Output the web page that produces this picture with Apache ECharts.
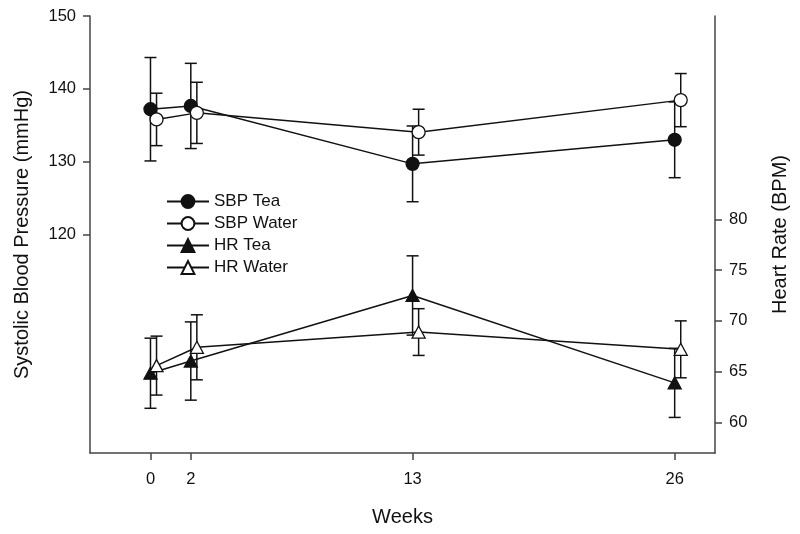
<!DOCTYPE html>
<html>
<head>
<meta charset="utf-8">
<script src="https://cdn.jsdelivr.net/npm/echarts@6/dist/echarts.min.js"></script>
<style>
  html, body { margin: 0; padding: 0; background: #fff; }
  #chart { width: 800px; height: 534px; }
</style>
</head>
<body>
<div id="chart"></div>
<script>
// data (means and SE)
var weeks = [0, 2, 13, 26];
var sbpTea = [137.2, 137.65, 129.7, 133.0];
var sbpTeaErr = [7.1, 5.85, 5.2, 5.2];
var sbpWater = [135.8, 136.7, 134.05, 138.45];
var sbpWaterErr = [3.6, 4.2, 3.15, 3.65];
var hrTea = [64.85, 66.05, 72.5, 63.9];
var hrTeaErr = [3.45, 3.85, 3.9, 3.4];
var hrWater = [65.6, 67.4, 68.9, 67.2];
var hrWaterErr = [2.9, 3.2, 2.3, 2.8];

var xTicks = [0, 2, 13, 26];
var sbpTicks = [120, 130, 140, 150];
var hrTicks = [60, 65, 70, 75, 80];

var DODGE = 0.3; // water groups are nudged right a little
var FONT = 'Liberation Sans, Arial, sans-serif';
var INK = '#111';

var chart = echarts.init(document.getElementById('chart'));

function errorBars(vals, errs, dx, yIndex) {
  return {
    type: 'custom',
    yAxisIndex: yIndex,
    z: 1,
    silent: true,
    encode: { x: 0, y: [1, 2] },
    data: weeks.map(function (w, i) {
      return [w + dx, vals[i] - errs[i], vals[i] + errs[i]];
    }),
    renderItem: function (params, api) {
      var lo = api.coord([api.value(0), api.value(1)]);
      var hi = api.coord([api.value(0), api.value(2)]);
      var hw = 6;
      var style = { stroke: INK, lineWidth: 1.5 };
      return {
        type: 'group',
        children: [
          { type: 'line', shape: { x1: lo[0], y1: lo[1], x2: hi[0], y2: hi[1] }, style: style },
          { type: 'line', shape: { x1: lo[0] - hw, y1: lo[1], x2: lo[0] + hw, y2: lo[1] }, style: style },
          { type: 'line', shape: { x1: hi[0] - hw, y1: hi[1], x2: hi[0] + hw, y2: hi[1] }, style: style }
        ]
      };
    }
  };
}

function lineSeries(name, vals, dx, yIndex, symbol, fill) {
  return {
    name: name,
    type: 'line',
    yAxisIndex: yIndex,
    z: 2,
    data: weeks.map(function (w, i) { return [w + dx, vals[i]]; }),
    symbol: symbol,
    symbolSize: symbol === 'circle' ? 13 : [13, 12],
    showAllSymbol: true,
    lineStyle: { color: INK, width: 1.5 },
    itemStyle: { color: fill, borderColor: INK, borderWidth: 1.3 },
    emphasis: { disabled: true }
  };
}

var axisLineStyle = { color: '#444', width: 1.5 };

chart.setOption({
  backgroundColor: '#fff',
  animation: false,
  grid: { left: 90, right: 85, top: 16, bottom: 81 },
  legend: {
    orient: 'vertical',
    left: 166,
    top: 193,
    padding: 0,
    itemWidth: 42,
    itemHeight: 16,
    itemGap: 5,
    textStyle: { fontSize: 17, color: INK, fontFamily: FONT },
    data: ['SBP Tea', 'SBP Water', 'HR Tea', 'HR Water']
  },
  xAxis: {
    type: 'value',
    min: -3,
    max: 28,
    name: 'Weeks',
    nameLocation: 'middle',
    nameGap: 54,
    nameTextStyle: { fontSize: 20, color: INK, fontFamily: FONT },
    axisLine: { show: true, onZero: false, lineStyle: axisLineStyle },
    axisTick: { show: true, length: 7, customValues: xTicks, lineStyle: axisLineStyle },
    axisLabel: { customValues: xTicks, margin: 18, fontSize: 16.5, color: INK, fontFamily: FONT },
    splitLine: { show: false }
  },
  yAxis: [
    {
      type: 'value',
      position: 'left',
      min: 90,
      max: 150,
      name: 'Systolic Blood Pressure (mmHg)',
      nameLocation: 'middle',
      nameGap: 58,
      nameTextStyle: { fontSize: 20, color: INK, fontFamily: FONT },
      axisLine: { show: true, onZero: false, lineStyle: axisLineStyle },
      axisTick: { show: true, length: 7, customValues: sbpTicks, lineStyle: axisLineStyle },
      axisLabel: { customValues: sbpTicks, margin: 14, fontSize: 16.5, color: INK, fontFamily: FONT },
      splitLine: { show: false }
    },
    {
      type: 'value',
      position: 'right',
      min: 57,
      max: 100,
      name: 'Heart Rate (BPM)',
      nameLocation: 'middle',
      nameGap: 55,
      nameTextStyle: { fontSize: 20, color: INK, fontFamily: FONT },
      axisLine: { show: true, onZero: false, lineStyle: axisLineStyle },
      axisTick: { show: true, length: 7, customValues: hrTicks, lineStyle: axisLineStyle },
      axisLabel: { customValues: hrTicks, margin: 14, fontSize: 16.5, color: INK, fontFamily: FONT },
      splitLine: { show: false }
    }
  ],
  series: [
    errorBars(sbpTea, sbpTeaErr, 0, 0),
    errorBars(sbpWater, sbpWaterErr, DODGE, 0),
    errorBars(hrTea, hrTeaErr, 0, 1),
    errorBars(hrWater, hrWaterErr, DODGE, 1),
    lineSeries('SBP Tea', sbpTea, 0, 0, 'circle', INK),
    lineSeries('SBP Water', sbpWater, DODGE, 0, 'circle', '#fff'),
    lineSeries('HR Tea', hrTea, 0, 1, 'triangle', INK),
    lineSeries('HR Water', hrWater, DODGE, 1, 'triangle', '#fff')
  ]
});
</script>
</body>
</html>
